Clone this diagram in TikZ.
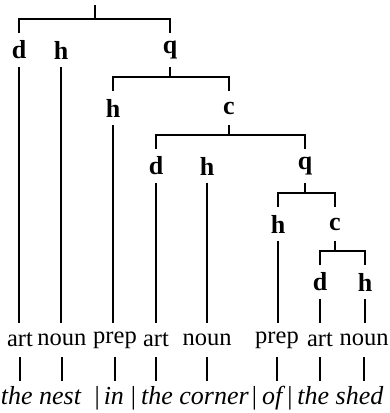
\documentclass[tikz,border=0pt]{standalone}
\usepackage{fontspec}
\setmainfont{Liberation Serif}
\begin{document}
\begin{tikzpicture}[x=1pt,y=-1pt,line width=1.8pt,
        fn/.style={font=\fontsize{26}{30}\selectfont\bfseries,inner sep=0pt,minimum height=32pt},
        wclass/.style={font=\fontsize{24.5}{28}\selectfont,inner sep=0pt,minimum height=32pt}]
        \useasboundingbox (0,0) rectangle (389,413);
        % function labels
        \coordinate (top) at (95,5);
        \node [fn] (d1) at (19,50) {d};
        \node [fn] (h1) at (61,50) {h};
        \node [fn] (q1) at (170,50) {q};
        \node [fn] (h2) at (113,108) {h};
        \node [fn] (c2) at (229,108) {c};
        \node [fn] (d3) at (156,166) {d};
        \node [fn] (h3) at (207,166) {h};
        \node [fn] (q3) at (305,166) {q};
        \node [fn] (h4) at (278,224) {h};
        \node [fn] (c4) at (335,224) {c};
        \node [fn] (d5) at (320,282) {d};
        \node [fn] (h5) at (365,282) {h};
        % word classes and words
        \node [wclass] (art1) at (20,340) {art};
        \node [wclass] (noun1) at (62,340) {noun};
        \node [wclass] (prep1) at (115,340) {prep};
        \node [wclass] (art2) at (156,340) {art};
        \node [wclass] (noun2) at (207,340) {noun};
        \node [wclass] (prep2) at (277,340) {prep};
        \node [wclass] (art3) at (320,340) {art};
        \node [wclass] (noun3) at (364,340) {noun};
        \node [wclass,anchor=west,font=\fontsize{26}{30}\selectfont\itshape] (words) at (0,398)
            {the nest\hspace{13pt}\textup{|}\hspace{4pt}in\hspace{7pt}\textup{|}\hspace{5pt}the corner\hspace{3pt}\textup{|}\hspace{5pt}of\hspace{2pt}\textup{|}\hspace{5pt}the shed};
        % brackets
        \draw (d1.north) -- ++(0,-14) coordinate (b1) -| (q1.north);
        \draw (top) -- (top |- b1);
        \draw (h2.north) -- ++(0,-14) coordinate (b2) -| (c2.north);
        \draw (q1.south) -- (q1.south |- b2);
        \draw (d3.north) -- ++(0,-14) coordinate (b3) -| (q3.north);
        \draw (c2.south) -- (c2.south |- b3);
        \draw (h4.north) -- ++(0,-14) coordinate (b4) -| (c4.north);
        \draw (q3.south) -- (q3.south |- b4);
        \draw (d5.north) -- ++(0,-14) coordinate (b5) -| (h5.north);
        \draw (c4.south) -- (c4.south |- b5);
        % leaves down to word classes
        \draw (d1.south) -- (d1.south |- art1.north);
        \draw (h1.south) -- (h1.south |- noun1.north);
        \draw (h2.south) -- (h2.south |- prep1.north);
        \draw (d3.south) -- (d3.south |- art2.north);
        \draw (h3.south) -- (h3.south |- noun2.north);
        \draw (h4.south) -- (h4.south |- prep2.north);
        \draw (d5.south) -- (d5.south |- art3.north);
        \draw (h5.south) -- (h5.south |- noun3.north);
        \foreach \p in {art1,noun1,prep1,art2,noun2,prep2,art3,noun3}
            \draw (\p.south) -- (\p.south |- words.north);
\end{tikzpicture}
\end{document}
